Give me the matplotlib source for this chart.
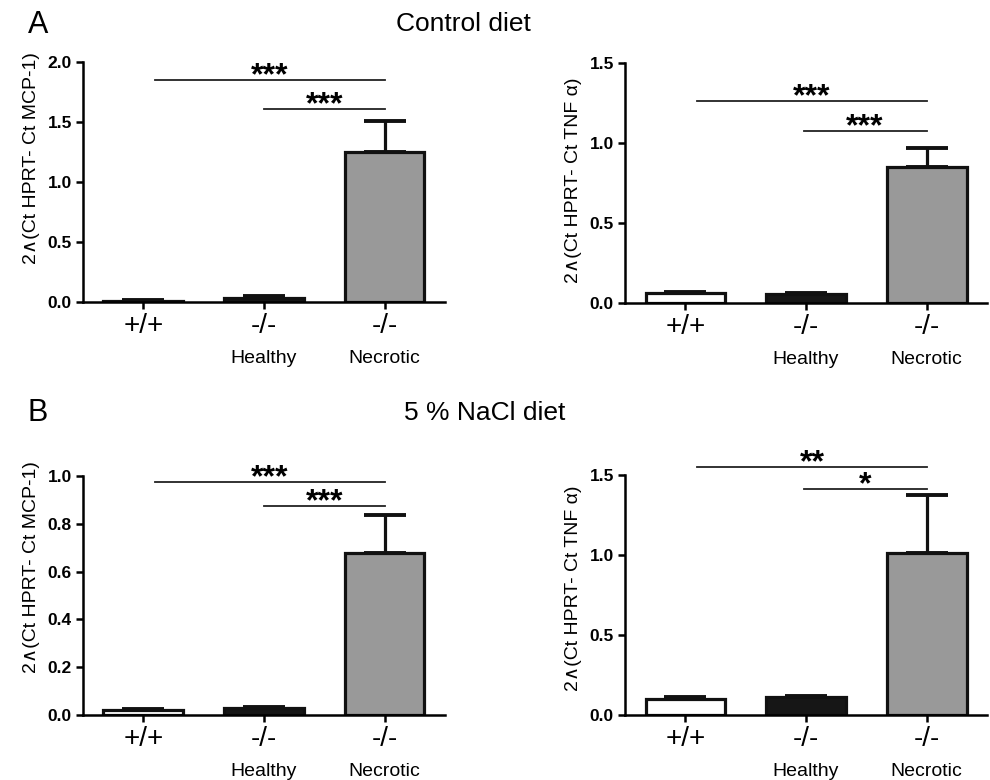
import numpy as np
import matplotlib
matplotlib.use('Agg')
import matplotlib.pyplot as plt

plt.rcParams['font.family'] = ['Liberation Sans', 'DejaVu Sans']

groups = ['+/+', '-/-', '-/-']
subgroups = ['', 'Healthy', 'Necrotic']
bar_colors = ['white', '#161616', '#999999']

# Control diet
mcp1_control = [0.01, 0.035, 1.25]
mcp1_control_err = [0.005, 0.012, 0.26]
tnf_control = [0.065, 0.058, 0.85]
tnf_control_err = [0.006, 0.006, 0.12]

# 5 % NaCl diet
mcp1_nacl = [0.022, 0.028, 0.68]
mcp1_nacl_err = [0.004, 0.005, 0.155]
tnf_nacl = [0.10, 0.11, 1.015]
tnf_nacl_err = [0.015, 0.012, 0.36]

# significance brackets: (start group, end group, height, label)
sig_mcp1_control = [(0.1, 2.0, 1.85, '***'), (1.0, 2.0, 1.61, '***')]
sig_tnf_control = [(0.1, 2.0, 1.26, '***'), (0.98, 2.0, 1.075, '***')]
sig_mcp1_nacl = [(0.1, 2.0, 0.973, '***'), (1.0, 2.0, 0.875, '***')]
sig_tnf_nacl = [(0.1, 2.0, 1.55, '**'), (0.98, 2.0, 1.41, '*')]


def draw_panel(ax, values, errs, sigs, ymax, yticks, ylabel, label_y):
    x = np.arange(len(values))
    ax.bar(x, values, width=0.66, color=bar_colors, edgecolor='#111111',
           linewidth=2.3, zorder=2)
    ax.errorbar(x, values, yerr=[np.zeros(len(errs)), errs], fmt='none',
                ecolor='#111111', elinewidth=2.3, capsize=15, capthick=2.8,
                zorder=1)
    for x0, x1, h, label in sigs:
        ax.plot([x0, x1], [h, h], color='#222222', linewidth=1.3, clip_on=False)
        ax.annotate(label, xy=((x0 + x1) / 2, h), xytext=(0, -8),
                    textcoords='offset points', ha='center', va='bottom',
                    fontsize=23, fontweight='bold', annotation_clip=False)
    ax.set_xlim(-0.5, 2.5)
    ax.set_ylim(0, ymax)
    ax.set_yticks(yticks)
    ax.set_yticklabels([f'{t:.1f}' for t in yticks], fontsize=12.5, fontweight='bold')
    ax.set_xticks(x)
    ax.set_xticklabels(groups, fontsize=20)
    for xi, s in zip(x, subgroups):
        ax.text(xi, -0.235, s, transform=ax.get_xaxis_transform(),
                ha='center', va='center', fontsize=14)
    ax.spines['top'].set_visible(False)
    ax.spines['right'].set_visible(False)
    ax.spines['left'].set_linewidth(1.8)
    ax.spines['bottom'].set_linewidth(1.8)
    ax.tick_params(axis='both', direction='out', width=1.8, length=5, pad=3)
    ax.tick_params(axis='x', pad=3)
    ax.set_ylabel(ylabel, fontsize=14)
    ax.yaxis.set_label_coords(-0.118, label_y)


fig = plt.figure(figsize=(9.9, 7.8), dpi=100)

ax1 = fig.add_axes([0.0838, 0.6128, 0.3657, 0.3077])
ax2 = fig.add_axes([0.6313, 0.6115, 0.3657, 0.3077])
ax3 = fig.add_axes([0.0838, 0.0833, 0.3657, 0.3064])
ax4 = fig.add_axes([0.6313, 0.0833, 0.3657, 0.3077])

draw_panel(ax1, mcp1_control, mcp1_control_err, sig_mcp1_control, 2.0,
           [0.0, 0.5, 1.0, 1.5, 2.0], '2∧(Ct HPRT- Ct MCP-1)', 0.60)
draw_panel(ax2, tnf_control, tnf_control_err, sig_tnf_control, 1.5,
           [0.0, 0.5, 1.0, 1.5], '2∧(Ct HPRT- Ct TNF α)', 0.51)
draw_panel(ax3, mcp1_nacl, mcp1_nacl_err, sig_mcp1_nacl, 1.0,
           [0.0, 0.2, 0.4, 0.6, 0.8, 1.0], '2∧(Ct HPRT- Ct MCP-1)', 0.62)
draw_panel(ax4, tnf_nacl, tnf_nacl_err, sig_tnf_nacl, 1.5,
           [0.0, 0.5, 1.0, 1.5], '2∧(Ct HPRT- Ct TNF α)', 0.53)

fig.text(38 / 990, 1 - 25 / 780, 'A', fontsize=22, ha='center', va='center')
fig.text(463 / 990, 1 - 24 / 780, 'Control diet', fontsize=19, ha='center', va='center')
fig.text(38 / 990, 1 - 413 / 780, 'B', fontsize=22, ha='center', va='center')
fig.text(485 / 990, 1 - 413 / 780, '5 % NaCl diet', fontsize=19, ha='center', va='center')

fig.savefig('out.png', dpi=100)
